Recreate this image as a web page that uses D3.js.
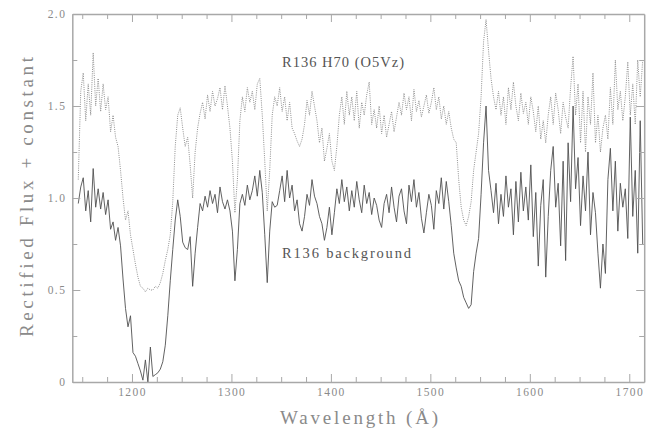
<!DOCTYPE html>
<html><head><meta charset="utf-8">
<script src="https://cdn.jsdelivr.net/npm/d3@7"></script>
<style>body{margin:0;background:#fff}svg{display:block}</style>
</head><body>
<svg id="c" width="660" height="430"></svg>
<script>
const wavelength = [
1146,1148.5,1151,1153.5,1156,1158.5,1161,1163.5,1166,1168.5,
1171,1173.5,1176,1178.5,1181,1183.5,1186,1188.5,1191,1193.5,
1196,1198.5,1201,1203.5,1206,1208.5,1211,1213.5,1216,1218.5,
1221,1223.5,1226,1228.5,1231,1233.5,1236,1238.5,1241,1243.5,
1246,1248.5,1251,1253.5,1256,1258.5,1261,1263.5,1266,1268.5,
1271,1273.5,1276,1278.5,1281,1283.5,1286,1288.5,1291,1293.5,
1296,1298.5,1301,1303.5,1306,1308.5,1311,1313.5,1316,1318.5,
1321,1323.5,1326,1328.5,1331,1333.5,1336,1338.5,1341,1343.5,
1346,1348.5,1351,1353.5,1356,1358.5,1361,1363.5,1366,1368.5,
1371,1373.5,1376,1378.5,1381,1383.5,1386,1388.5,1391,1393.5,
1396,1398.5,1401,1403.5,1406,1408.5,1411,1413.5,1416,1418.5,
1421,1423.5,1426,1428.5,1431,1433.5,1436,1438.5,1441,1443.5,
1446,1448.5,1451,1453.5,1456,1458.5,1461,1463.5,1466,1468.5,
1471,1473.5,1476,1478.5,1481,1483.5,1486,1488.5,1491,1493.5,
1496,1498.5,1501,1503.5,1506,1508.5,1511,1513.5,1516,1518.5,
1521,1523.5,1526,1528.5,1531,1533.5,1536,1538.5,1541,1543.5,
1546,1548.5,1551,1553.5,1556,1558.5,1561,1563.5,1566,1568.5,
1571,1573.5,1576,1578.5,1581,1583.5,1586,1588.5,1591,1593.5,
1596,1598.5,1601,1603.5,1606,1608.5,1611,1613.5,1616,1618.5,
1621,1623.5,1626,1628.5,1631,1633.5,1636,1638.5,1641,1643.5,
1646,1648.5,1651,1653.5,1656,1658.5,1661,1663.5,1666,1668.5,
1671,1673.5,1676,1678.5,1681,1683.5,1686,1688.5,1691,1693.5,
1696,1698.5,1701,1703.5,1706,1708.5,1711,1713.5];

// R136 background (solid)
const background = [
0.97,1.06,1.11,0.93,1.04,0.87,1.16,0.95,1.05,0.94,
1.03,0.91,0.99,0.83,0.87,0.77,0.84,0.74,0.56,0.40,
0.30,0.36,0.16,0.14,0.10,0.06,0.01,0.12,0.00,0.19,
0.03,0.04,0.05,0.07,0.11,0.20,0.36,0.55,0.72,0.88,
0.99,0.90,0.76,0.73,0.72,0.79,0.52,0.70,0.84,0.97,
0.93,1.01,0.95,1.04,0.97,1.02,0.92,1.06,0.98,0.94,
0.99,0.93,0.82,0.55,0.72,0.97,1.02,0.96,1.07,0.99,
1.04,1.12,1.01,1.15,1.03,0.80,0.54,0.82,0.98,0.95,
0.96,1.04,1.12,0.98,1.15,1.00,1.07,0.93,0.99,0.86,
0.82,0.90,1.02,0.96,1.10,1.01,0.97,0.90,0.86,0.77,
0.84,0.95,0.80,0.92,1.05,0.97,1.10,0.98,1.06,0.93,
1.04,0.95,1.09,0.99,0.92,1.07,0.97,1.03,0.91,1.00,
0.96,0.88,0.84,0.97,1.02,0.92,1.06,0.95,0.87,1.01,
1.05,0.93,0.86,1.07,0.98,1.10,0.95,1.03,0.89,0.81,
0.92,1.02,0.96,0.83,1.04,0.97,1.11,0.94,1.09,0.98,
0.85,0.70,0.62,0.55,0.52,0.46,0.43,0.40,0.42,0.60,
0.70,0.78,1.02,1.30,1.50,1.15,1.04,0.92,1.08,0.86,
1.02,0.90,1.12,0.95,1.05,0.80,1.09,0.87,1.14,0.93,
1.06,0.88,1.18,0.79,1.03,0.63,0.96,1.10,0.57,0.90,
1.15,1.28,0.95,1.08,0.74,1.20,0.66,1.30,0.98,1.50,
1.05,1.22,0.85,1.12,0.93,1.25,0.80,1.03,0.92,0.70,
0.51,0.75,0.59,1.10,1.27,0.93,1.20,0.82,1.08,0.95,
1.05,0.78,1.44,0.90,1.15,0.70,1.42,0.75];

// R136 H70 (O5Vz) (dotted)
const h70 = [
1.10,1.58,1.68,1.42,1.62,1.45,1.79,1.50,1.65,1.47,
1.62,1.48,1.55,1.36,1.45,1.33,1.28,1.15,1.00,0.88,
0.93,0.80,0.72,0.64,0.57,0.52,0.51,0.49,0.51,0.50,
0.50,0.52,0.51,0.54,0.59,0.66,0.72,0.80,0.98,1.28,
1.45,1.49,1.38,1.28,1.33,1.18,1.00,1.25,1.38,1.46,
1.52,1.43,1.56,1.47,1.58,1.50,1.54,1.60,1.48,1.61,
1.50,1.38,1.20,0.92,1.10,1.42,1.55,1.47,1.60,1.52,
1.58,1.48,1.62,1.65,1.45,1.20,0.93,1.15,1.45,1.55,
1.50,1.60,1.47,1.55,1.42,1.52,1.38,1.35,1.31,1.28,
1.32,1.40,1.53,1.45,1.58,1.50,1.42,1.30,1.38,1.20,
1.27,1.35,1.20,1.15,1.28,1.45,1.55,1.40,1.58,1.45,
1.55,1.42,1.58,1.38,1.52,1.45,1.56,1.63,1.40,1.48,
1.38,1.50,1.35,1.45,1.33,1.40,1.47,1.36,1.44,1.52,
1.45,1.57,1.48,1.55,1.42,1.59,1.47,1.53,1.44,1.50,
1.56,1.46,1.52,1.60,1.48,1.55,1.43,1.50,1.40,1.47,
1.38,1.32,1.30,1.10,0.95,0.88,0.85,0.90,0.98,1.15,
1.25,1.35,1.55,1.85,1.97,1.80,1.65,1.55,1.48,1.58,
1.45,1.55,1.40,1.60,1.48,1.63,1.50,1.42,1.57,1.46,
1.52,1.40,1.55,1.47,1.36,1.50,1.32,1.42,1.30,1.45,
1.55,1.40,1.57,1.48,1.35,1.52,1.44,1.38,1.60,1.77,
1.45,1.62,1.30,1.58,1.25,1.55,1.40,1.68,1.30,1.45,
1.25,1.38,1.45,1.32,1.60,1.40,1.75,1.48,1.58,1.42,
1.55,1.74,1.45,1.62,1.40,1.75,1.55,1.75];

const xMajor = [1200,1300,1400,1500,1600,1700];
const yMajor = [0,0.5,1.0,1.5,2.0];
const yTickLabels = ["0","0.5","1.0","1.5","2.0"];
const labels = ["R136 H70 (O5Vz)", "R136 background"];
const xTitle = "Wavelength (Å)";
const yTitle = "Rectified Flux + constant";

const svg = d3.select("#c");
const L = 72.3, R = 644.2, T = 14, B = 382;
const x = d3.scaleLinear().domain([1140, 1715]).range([L, R]);
const y = d3.scaleLinear().domain([0, 2]).range([B, T]);
const font = "'Liberation Serif', 'DejaVu Serif', serif";
const axisCol = "#a8a8a8";
const textCol = "#8a8a8a";

// data lines
svg.append("clipPath").attr("id","pc").append("rect")
  .attr("x",L).attr("y",T).attr("width",R-L).attr("height",B-T);
const line = d3.line().x(d=>x(d[0])).y(d=>y(d[1]));
svg.append("path").attr("clip-path","url(#pc)")
  .datum(wavelength.map((w,i)=>[w,h70[i]]))
  .attr("d",line).attr("fill","none").attr("stroke","#8f8f8f")
  .attr("stroke-width",1).attr("stroke-dasharray","1,1.2");
svg.append("path").attr("clip-path","url(#pc)")
  .datum(wavelength.map((w,i)=>[w,background[i]]))
  .attr("d",line).attr("fill","none").attr("stroke","#505050")
  .attr("stroke-width",0.9);

// axes (ticks inward on all four sides)
function styleAxis(g){
  g.select(".domain").attr("stroke",axisCol).attr("stroke-width",1.5);
  g.selectAll(".tick line").attr("stroke",axisCol).attr("stroke-width",1);
  g.selectAll(".tick text").attr("fill",textCol).attr("font-family",font)
    .attr("font-size","11.5px").attr("letter-spacing","1.4px");
}
const xMinor = d3.range(1150, 1715, 25).filter(v=>v%100!==0);
const yMinor = [0.25,0.75,1.25,1.75];
const axB = d3.axisBottom(x).tickValues(xMajor).tickSize(-8).tickSizeOuter(0).tickPadding(6).tickFormat(d3.format("d"));
const axT = d3.axisTop(x).tickValues(xMajor).tickSize(-8).tickSizeOuter(0).tickFormat("");
const axL = d3.axisLeft(y).tickValues(yMajor).tickSize(-8).tickSizeOuter(0).tickPadding(6).tickFormat((d,i)=>yTickLabels[i]);
const axR = d3.axisRight(y).tickValues(yMajor).tickSize(-8).tickSizeOuter(0).tickFormat("");
svg.append("g").attr("transform",`translate(0,${B})`).call(axB).call(styleAxis);
svg.append("g").attr("transform",`translate(0,${T})`).call(axT).call(styleAxis);
svg.append("g").attr("transform",`translate(${L},0)`).call(axL).call(styleAxis);
svg.append("g").attr("transform",`translate(${R},0)`).call(axR).call(styleAxis);
// minor ticks
const mb = d3.axisBottom(x).tickValues(xMinor).tickSize(-5).tickSizeOuter(0).tickFormat("");
const mt = d3.axisTop(x).tickValues(xMinor).tickSize(-5).tickSizeOuter(0).tickFormat("");
const ml = d3.axisLeft(y).tickValues(yMinor).tickSize(-5).tickSizeOuter(0).tickFormat("");
const mr = d3.axisRight(y).tickValues(yMinor).tickSize(-5).tickSizeOuter(0).tickFormat("");
[[mb,`translate(0,${B})`],[mt,`translate(0,${T})`],[ml,`translate(${L},0)`],[mr,`translate(${R},0)`]].forEach(([a,t])=>{
  const g = svg.append("g").attr("transform",t).call(a).call(styleAxis);
  g.select(".domain").remove();
});

// titles
svg.append("text").attr("x",280).attr("y",424)
  .attr("textLength",158).attr("lengthAdjust","spacing")
  .attr("font-family",font).attr("font-size","19px").attr("fill",textCol).text(xTitle);
svg.append("text").attr("transform","translate(33,337) rotate(-90)")
  .attr("textLength",280).attr("lengthAdjust","spacing")
  .attr("font-family",font).attr("font-size","19px").attr("fill",textCol).text(yTitle);

// annotations
svg.append("text").attr("x",282).attr("y",67).attr("font-family",font)
  .attr("textLength",122).attr("lengthAdjust","spacing")
  .attr("font-size","14.5px").attr("fill","#555").text(labels[0]);
svg.append("text").attr("x",282).attr("y",258).attr("font-family",font)
  .attr("textLength",129).attr("lengthAdjust","spacing")
  .attr("font-size","14.5px").attr("fill","#555").text(labels[1]);
</script>
</body></html>
